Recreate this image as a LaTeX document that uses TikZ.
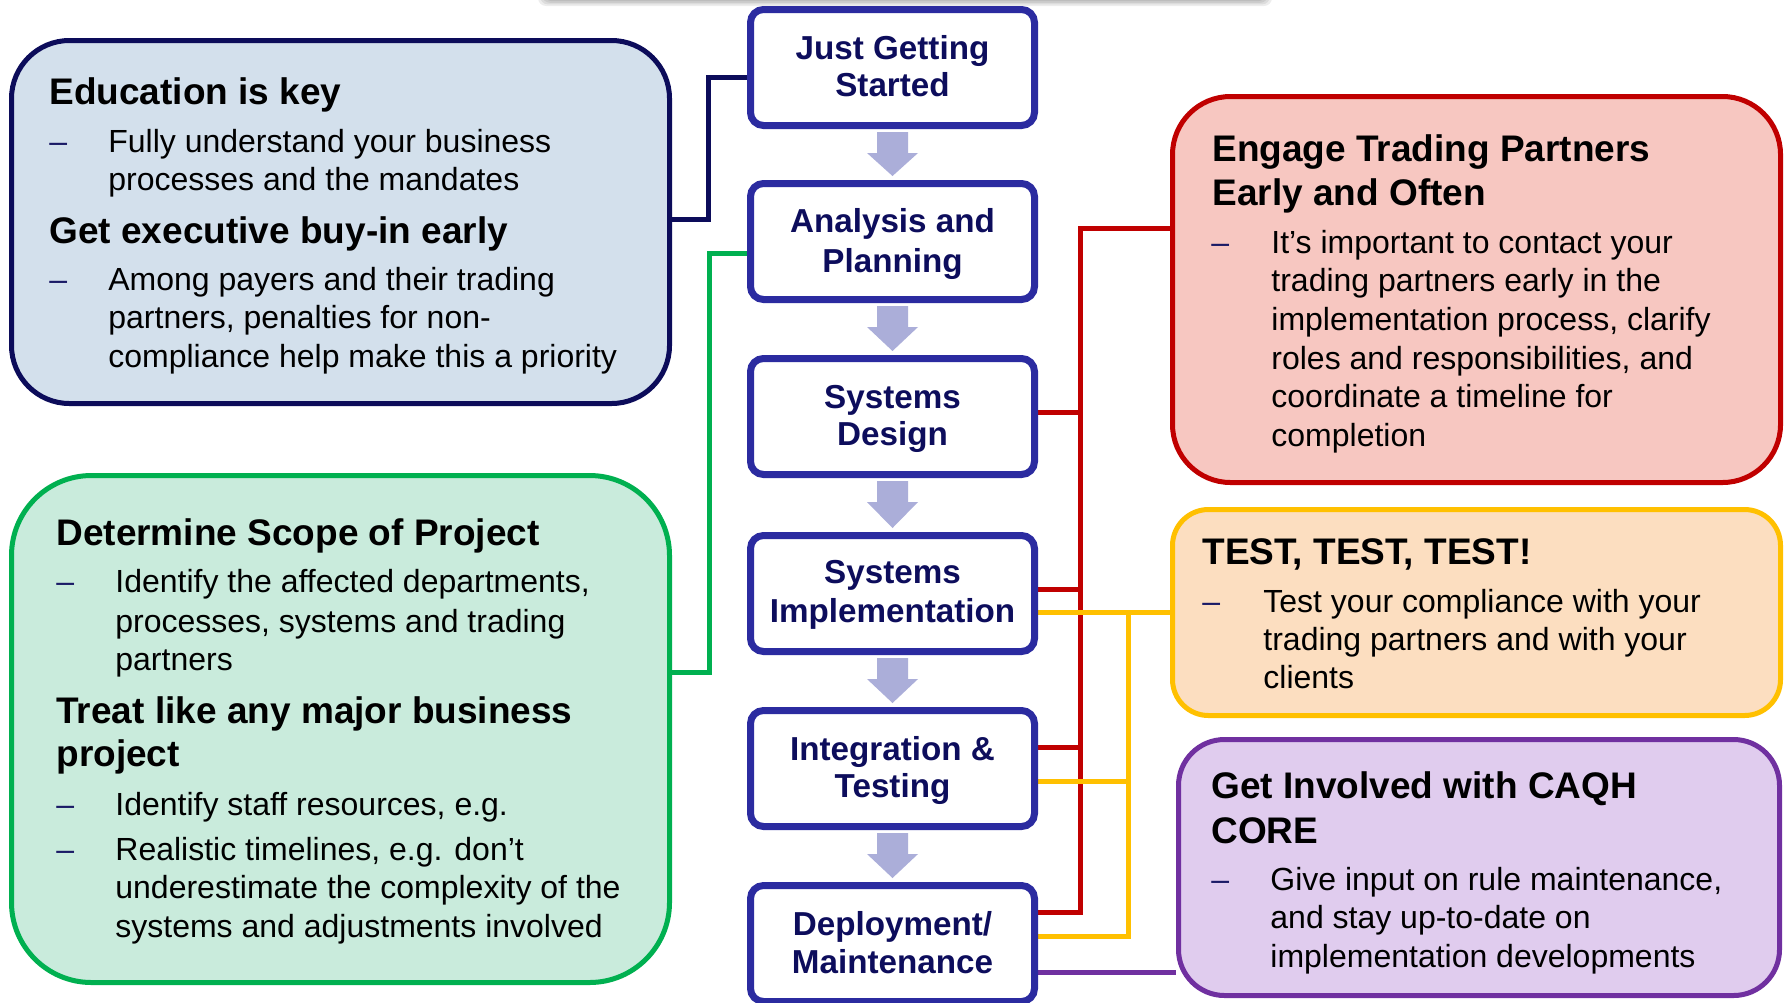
\documentclass[tikz,border=0pt]{standalone}
\usepackage{fontspec}
\setmainfont{Liberation Sans}
\usetikzlibrary{calc,shadows,backgrounds}
\definecolor{navyc}{HTML}{0C0C5A}
\definecolor{bluefill}{HTML}{D3E0EC}
\definecolor{greenc}{HTML}{00B050}
\definecolor{greenfill}{HTML}{C9EBDC}
\definecolor{redc}{HTML}{C00000}
\definecolor{redfill}{HTML}{F7C7C1}
\definecolor{yellowc}{HTML}{FFC000}
\definecolor{yellowfill}{HTML}{FCDEC0}
\definecolor{purplec}{HTML}{7030A0}
\definecolor{purplefill}{HTML}{E0CCEE}
\definecolor{stageborder}{HTML}{2B2BA0}
\definecolor{stagetxt}{HTML}{0D0D5C}
\definecolor{arrowfill}{HTML}{ABAED9}
\definecolor{dashcol}{HTML}{1A1A66}
\begin{document}
\begin{tikzpicture}[x=0.5pt,y=-0.5pt,
  body/.style={anchor=base west, inner sep=0pt, font=\fontsize{16pt}{19pt}\selectfont, text=black},
  head/.style={anchor=base west, inner sep=0pt, font=\fontsize{18.5pt}{22pt}\selectfont\bfseries, text=black},
  dashmark/.style={anchor=base west, inner sep=0pt, font=\fontsize{16pt}{19pt}\selectfont, text=dashcol},
  stage/.style={draw=stageborder, line width=3.5pt, rounded corners=6.5pt, fill=white,
    minimum width=142pt, minimum height=58pt, inner sep=0pt,
    drop shadow={shadow xshift=0.6pt, shadow yshift=-1.6pt, opacity=0.25}},
  stagelabel/.style={anchor=base, inner sep=0pt, font=\fontsize{16.6pt}{19pt}\selectfont\bfseries, text=stagetxt},
  panel/.style={line width=2.5pt, inner sep=0pt},
  conn/.style={line width=2.5pt},
]
\useasboundingbox (0,0) rectangle (1786,1002);

% ---------- stage boxes ----------
\node[stage] (s1) at (892.5,67.5) {};
\node[stage] (s2) at (892.5,241.5) {};
\node[stage] (s3) at (892.5,416.5) {};
\node[stage] (s4) at (892.5,593.5) {};
\node[stage] (s5) at (892.5,768.5) {};
\node[stage] (s6) at (892.5,943.5) {};

\node[stagelabel] (s1a) at (892.5,59) {Just Getting};
\node[stagelabel] (s1b) at (892.5,96) {Started};
\node[stagelabel] (s2a) at (892.5,232) {Analysis and};
\node[stagelabel] (s2b) at (892.5,272) {Planning};
\node[stagelabel] (s3a) at (892.5,408) {Systems};
\node[stagelabel] (s3b) at (892.5,445) {Design};
\node[stagelabel] (s4a) at (892.5,583) {Systems};
\node[stagelabel] (s4b) at (892.5,622) {Implementation};
\node[stagelabel] (s5a) at (892.5,760) {Integration \&};
\node[stagelabel] (s5b) at (892.5,797) {Testing};
\node[stagelabel] (s6a) at (892.5,935) {Deployment/};
\node[stagelabel] (s6b) at (892.5,973) {Maintenance};

% ---------- flow arrows ----------
\foreach \a/\b in {s1/s2,s2/s3,s3/s4,s4/s5,s5/s6}{
  \fill[arrowfill] ($(\a.south)+(-15.5,3)$) -- ($(\a.south)+(15.5,3)$) -- ($(\a.south)+(15.5,24)$)
    -- ($(\a.south)+(25.5,24)$) -- ($(\b.north)+(0,-4)$) -- ($(\a.south)+(-25.5,24)$)
    -- ($(\a.south)+(-15.5,24)$) -- cycle;
}

% ---------- panels ----------
\node[panel, draw=navyc, fill=bluefill, rounded corners=29pt, minimum width=329pt, minimum height=181.5pt] (blue) at (340.5,222) {};
\node[panel, draw=greenc, fill=greenfill, rounded corners=40pt, minimum width=329pt, minimum height=253.5pt] (green) at (340.5,729) {};
\node[panel, draw=redc, fill=redfill, rounded corners=29pt, minimum width=304pt, minimum height=193pt] (red) at (1476.5,289.5) {};
\node[panel, draw=yellowc, fill=yellowfill, rounded corners=18pt, minimum width=304pt, minimum height=103pt] (yellow) at (1476.5,612.5) {};
\node[panel, draw=purplec, fill=purplefill, rounded corners=23pt, minimum width=300.5pt, minimum height=128pt] (purple) at (1479,867.5) {};

% blue panel text
\node[head] (bh1) at (49,104) {Education is key};
\node[dashmark] (bd1) at (49,152) {–};
\node[body] (bt1) at (108,152) {Fully understand your business};
\node[body] (bt2) at (108,190) {processes and the mandates};
\node[head] (bh2) at (49,243) {Get executive buy-in early};
\node[dashmark] (bd2) at (49,290) {–};
\node[body] (bt3) at (108,290) {Among payers and their trading};
\node[body] (bt4) at (108,328) {partners, penalties for non-};
\node[body] (bt5) at (108,367) {compliance help make this a priority};

% green panel text
\node[head] (gh1) at (56,545) {Determine Scope of Project};
\node[dashmark] (gd1) at (56,592) {–};
\node[body] (gt1) at (115,592) {Identify the affected departments,};
\node[body] (gt2) at (115,632) {processes, systems and trading};
\node[body] (gt3) at (115,670) {partners};
\node[head] (gh2) at (56,723) {Treat like any major business};
\node[head] (gh3) at (56,766) {project};
\node[dashmark] (gd2) at (56,815) {–};
\node[body] (gt4) at (115,815) {Identify staff resources, e.g.};
\node[dashmark] (gd3) at (56,860) {–};
\node[body] (gt5) at (115,860) {Realistic timelines, e.g. don’t};
\node[body] (gt6) at (115,898) {underestimate the complexity of the};
\node[body] (gt7) at (115,937) {systems and adjustments involved};

% red panel text
\node[head] (rh1) at (1212,161) {Engage Trading Partners};
\node[head] (rh2) at (1212,205) {Early and Often};
\node[dashmark] (rd1) at (1211,253) {–};
\node[body] (rt1) at (1271,253) {It’s important to contact your};
\node[body] (rt2) at (1271,291) {trading partners early in the};
\node[body] (rt3) at (1271,330) {implementation process, clarify};
\node[body] (rt4) at (1271,369) {roles and responsibilities, and};
\node[body] (rt5) at (1271,407) {coordinate a timeline for};
\node[body] (rt6) at (1271,446) {completion};

% yellow panel text
\node[head] (yh1) at (1202,564) {TEST, TEST, TEST!};
\node[dashmark] (yd1) at (1202,612) {–};
\node[body] (yt1) at (1263,612) {Test your compliance with your};
\node[body] (yt2) at (1263,650) {trading partners and with your};
\node[body] (yt3) at (1263,688) {clients};

% purple panel text
\node[head] (ph1) at (1211,798) {Get Involved with CAQH};
\node[head] (ph2) at (1211,843) {CORE};
\node[dashmark] (pd1) at (1211,890) {–};
\node[body] (pt1) at (1270,890) {Give input on rule maintenance,};
\node[body] (pt2) at (1270,928) {and stay up-to-date on};
\node[body] (pt3) at (1270,967) {implementation developments};

% ---------- connectors (behind) ----------
\begin{pgfonlayer}{background}
  \fill[white] (0,0) rectangle (1786,1002);
  % soft shadow of an element above the picture
  \foreach \i in {0,1,2,3,4,5}{
    \fill[black, opacity=0.07, rounded corners=4pt] (548-\i*2,-30) rectangle (1262+\i*2,-2+\i*1.6);
  }
  \coordinate (nvk) at (708,77);
  \draw[conn, draw=navyc] (blue.east |- 0,219) -| (nvk) -- (s1.west |- nvk);
  \coordinate (grk) at (709,253);
  \draw[conn, draw=greenc] (green.east |- 0,672) -| (grk) -- (s2.west |- grk);
  \coordinate (rdt) at (1080,228);
  \coordinate (rdb) at (1080,912);
  \draw[conn, draw=redc] (red.west |- rdt) -- (rdt) -- (rdb) -- (s6.east |- rdb);
  \draw[conn, draw=redc] (s3.east |- 0,412) -- (1080,412);
  \draw[conn, draw=redc] (s4.east |- 0,589) -- (1080,589);
  \draw[conn, draw=redc] (s5.east |- 0,747) -- (1080,747);
  \coordinate (ylt) at (1128,612);
  \coordinate (ylb) at (1128,936);
  \draw[conn, draw=yellowc] (yellow.west |- ylt) -- (s4.east |- ylt);
  \draw[conn, draw=yellowc] (ylt) -- (ylb) -- (s6.east |- ylb);
  \draw[conn, draw=yellowc] (s5.east |- 0,781) -- (1128,781);
  \draw[conn, draw=purplec] (s6.east |- 0,972) -- (purple.west |- 0,972);
\end{pgfonlayer}
\end{tikzpicture}
\end{document}
